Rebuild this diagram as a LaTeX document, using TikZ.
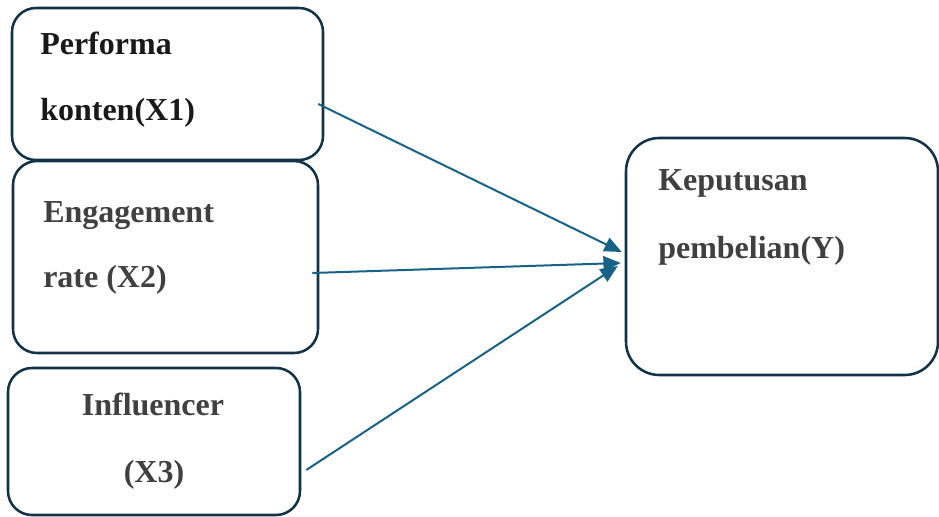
\documentclass[tikz,border=0pt]{standalone}
\usepackage{xcolor}
\usepackage{fontspec}
\setmainfont{Liberation Serif}
\usepackage{tikz}
\usetikzlibrary{arrows.meta}
\definecolor{boxline}{rgb}{0.07,   0.20,   0.28}
\definecolor{arrline}{rgb}{0.09,   0.39,   0.53}
\definecolor{textdark}{rgb}{0.10,   0.10,   0.10}
\definecolor{textgray}{rgb}{0.25,   0.25,   0.25}

\begin{document}
\begin{tikzpicture}[x=0.75pt,y=-0.75pt,>={Triangle[length=13pt,width=11pt]}]
\tikzset{varbox/.style={draw=boxline, line width=1.9pt, rounded corners=18pt, inner sep=0pt},
varlabel/.style={anchor=base west, inner sep=0pt, text=textgray},
influence/.style={->, draw=arrline, line width=1.5pt}}
\fontsize{24pt}{24pt}
\selectfont
\bfseries
\useasboundingbox (0,0) rectangle (939,517);

% variable boxes
\node (x1) at (167.5,84) [varbox, minimum width=233.25pt, minimum height=114pt] {};
\node (x2) at (165.5,257) [varbox, minimum width=228.75pt, minimum height=144pt] {};
\node (x3) at (154,441.5) [varbox, minimum width=219pt, minimum height=110.25pt] {};
\node (y) at (782,256.5) [varbox, rounded corners=25pt, minimum width=234pt, minimum height=177.75pt] {};

% labels
\node (x1a) at (40,55) [varlabel, text=textdark] {Performa};
\node (x1b) at (40,120) [varlabel, text=textdark] {konten(X1)};
\node (x2a) at (43,222) [varlabel] {Engagement};
\node (x2b) at (43,287) [varlabel] {rate (X2)};
\node (x3a) at (153,415) [varlabel, anchor=base] {Influencer};
\node (x3b) at (154,482) [varlabel, anchor=base] {(X3)};
\node (ya) at (658,190) [varlabel] {Keputusan};
\node (yb) at (658,258) [varlabel] {pembelian(Y)};

% arrows
\draw[influence] ([shift={(-6,20)}]x1.east) -- ([shift={(-3,-4.5)}]y.west);
\draw[influence] ([shift={(-7,16)}]x2.east) -- ([shift={(-4,6.5)}]y.west);
\draw[influence] ([shift={(5,28.5)}]x3.east) -- ([shift={(-7,9.5)}]y.west);

\end{tikzpicture}
\end{document}
